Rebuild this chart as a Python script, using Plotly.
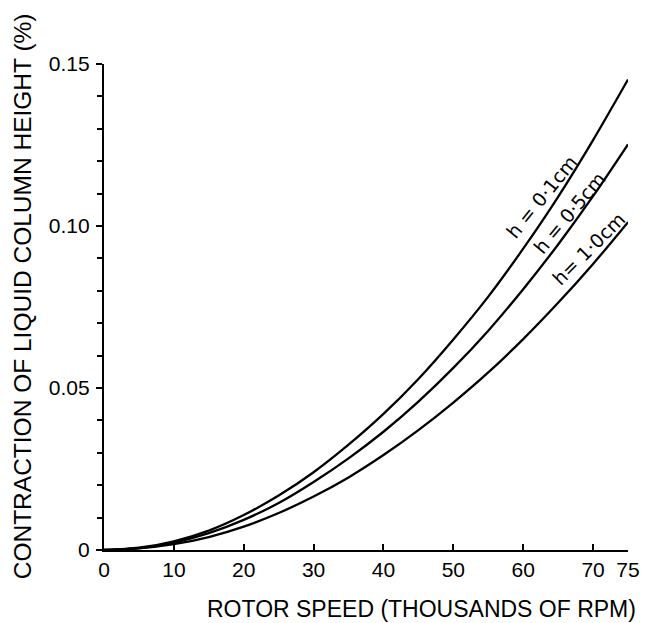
import plotly.graph_objects as go

# Rotor speed in thousands of RPM
speed = [0, 5, 10, 15, 20, 25, 30, 35, 40, 45, 50, 55, 60, 65, 70, 75]

# Contraction of the liquid column height (%) for each column height h
contraction_h01 = [0, 0.0007, 0.0027, 0.0060, 0.0108, 0.0168, 0.0240, 0.0325,
                   0.0420, 0.0528, 0.0650, 0.0782, 0.0930, 0.1090, 0.1265, 0.1452]
contraction_h05 = [0, 0.0006, 0.0023, 0.0052, 0.0093, 0.0145, 0.0210, 0.0283,
                   0.0365, 0.0458, 0.0562, 0.0677, 0.0805, 0.0943, 0.1092, 0.1252]
contraction_h10 = [0, 0.0005, 0.0018, 0.0040, 0.0072, 0.0114, 0.0165, 0.0224,
                   0.0293, 0.0370, 0.0455, 0.0548, 0.0651, 0.0763, 0.0883, 0.1012]

curve_labels = ["h = 0·1cm", "h = 0·5cm", "h= 1·0cm"]

x_tickvals = [0, 10, 20, 30, 40, 50, 60, 70, 75]
x_ticktext = ["0", "10", "20", "30", "40", "50", "60", "70", "75"]
y_tickvals = [0, 0.05, 0.10, 0.15]
y_ticktext = ["0", "0.05", "0.10", "0.15"]

TICK_FONT = dict(family="Liberation Sans", size=21, color="black")
XTITLE_FONT = dict(family="Liberation Sans", size=23, color="black")
YTITLE_FONT = dict(family="Liberation Sans", size=24.5, color="black")
LABEL_FONT = dict(family="DejaVu Sans", size=19, color="black")

fig = go.Figure()
for series in (contraction_h01, contraction_h05, contraction_h10):
    fig.add_trace(go.Scatter(
        x=speed, y=series, mode="lines",
        line=dict(color="black", width=2.3, shape="spline", smoothing=0.8),
        showlegend=False, hoverinfo="skip",
    ))

# Curve labels written along each line, near the high-speed end
label_pos = [(62.6, 0.1090, -51), (66.6, 0.1040, -50), (69.3, 0.0930, -45)]
for text, (lx, ly, ang) in zip(curve_labels, label_pos):
    fig.add_annotation(x=lx, y=ly, text=text, showarrow=False, textangle=ang,
                       font=LABEL_FONT, xanchor="center", yanchor="middle")

# Axis titles
fig.add_annotation(xref="paper", yref="paper", x=0.605, y=-0.1214,
                   text="ROTOR SPEED (THOUSANDS OF RPM)", showarrow=False,
                   font=XTITLE_FONT, xanchor="center", yanchor="middle")
fig.add_annotation(xref="paper", yref="paper", x=-0.1565, y=0.522,
                   text="CONTRACTION OF LIQUID COLUMN HEIGHT (%)", showarrow=False,
                   textangle=-90, font=YTITLE_FONT, xanchor="center", yanchor="middle")

fig.update_xaxes(
    range=[0, 75], showgrid=False, zeroline=False, automargin=False,
    showline=True, linecolor="black", linewidth=2.3,
    ticks="inside", ticklen=6, tickwidth=2, tickcolor="black",
    tickvals=x_tickvals, ticktext=x_ticktext, tickfont=TICK_FONT,
    ticklabelstandoff=0,
)
fig.update_yaxes(
    range=[0, 0.15], showgrid=False, zeroline=False, automargin=False,
    showline=True, linecolor="black", linewidth=2.3,
    ticks="outside", ticklen=6, tickwidth=2, tickcolor="black",
    tickvals=y_tickvals, ticktext=y_ticktext, tickfont=TICK_FONT,
    ticklabelstandoff=2,
    minor=dict(dtick=0.01, ticks="outside", ticklen=5, tickwidth=2, tickcolor="black"),
)

fig.update_layout(
    width=645, height=623,
    margin=dict(l=104, r=17, t=64, b=73, autoexpand=False),
    plot_bgcolor="white", paper_bgcolor="white",
)

fig.write_html("out.html")
